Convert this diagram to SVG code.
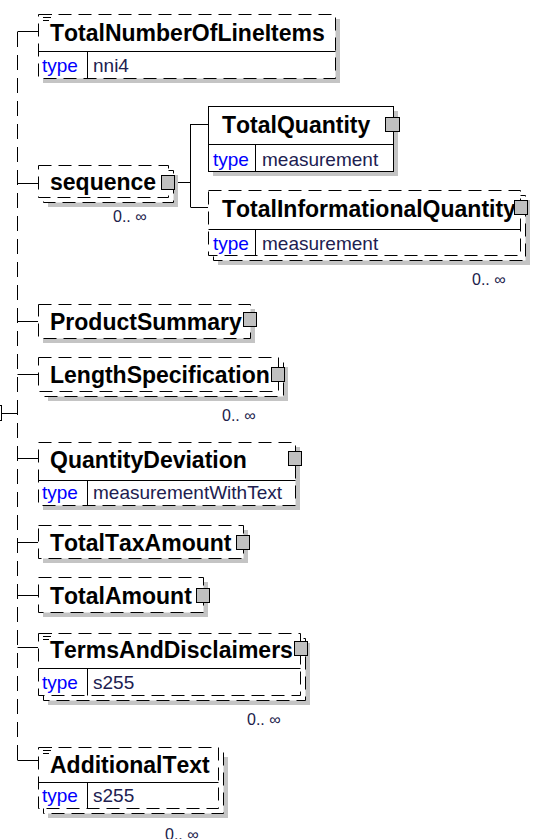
<svg xmlns="http://www.w3.org/2000/svg" width="534" height="839" viewBox="0 0 534 839">
<defs>
<style>
.bg{fill:#fff}
.sh{fill:#c4c4c4}
.bx{fill:#fff;stroke:#000;stroke-width:1}
.d{stroke-dasharray:13 7}
.ln{stroke:#000;stroke-width:1;fill:none}
.vd{stroke:#000;stroke-width:1;fill:none;stroke-dasharray:15 8}
.sq{fill:#c0c0c0;stroke:#000;stroke-width:1}
.nm{font-family:"Liberation Sans",Arial,sans-serif;font-weight:bold;font-size:23px;fill:#000;font-kerning:none}
.tk{font-family:"Liberation Sans",Arial,sans-serif;font-size:19px;fill:#0000ff}
.tv{font-family:"Liberation Sans",Arial,sans-serif;font-size:19px;fill:#202050}
.oc{font-family:"Liberation Sans",Arial,sans-serif;font-size:16px;fill:#20204a}
</style>
</defs>
<rect class="bg" x="0" y="0" width="534" height="839"/>

<g id="connectors">
<path class="vd" d="M17.5 760 V31"/>
<path class="ln" d="M17.5 31.5 H38"/>
<path class="ln" d="M17.5 183.5 H38"/>
<path class="ln" d="M175 182.5 H190.5 M190.5 124 V207 M190.5 124.5 H208 M190.5 207.5 H208"/>
<path class="ln" d="M17.5 321.5 H38"/>
<path class="ln" d="M17.5 374.5 H38"/>
<path class="ln" d="M2 413.5 H17.5"/>
<rect class="ln" x="-12.5" y="405.5" width="14" height="15"/>
<path class="ln" d="M17.5 458.5 H38"/>
<path class="ln" d="M17.5 542.5 H38"/>
<path class="ln" d="M17.5 595.5 H38"/>
<path class="ln" d="M17.5 647.5 H38"/>
<path class="ln" d="M17.5 760.5 H38"/>
</g>

<g id="TotalNumberOfLineItems">
<rect class="sh" x="43" y="19" width="297" height="64"/>
<rect class="bx d" x="38.5" y="14.5" width="297" height="64"/>
<path class="ln" d="M38.5 51.5 H335.5 M87.5 51.5 V78.5"/>
<path class="ln" d="M41 14.5 H52 M43 17.5 H51 M43 20.5 H49"/>
<text class="nm" x="50" y="41">TotalNumberOfLineItems</text>
<text class="tk" x="42" y="72">type</text>
<text class="tv" x="93" y="72">nni4</text>
</g>

<g id="sequence">
<rect class="sh" x="48" y="175" width="130" height="32"/>
<rect class="bx d" x="43.5" y="170.5" width="130" height="32"/>
<rect class="bx d" x="38.5" y="165.5" width="130" height="32"/>
<text class="nm" x="50" y="190">sequence</text>
<rect class="sq" x="161.5" y="175.5" width="13" height="14"/>
<text class="oc" x="113" y="222">0.. ∞</text>
</g>

<g id="TotalQuantity">
<rect class="sh" x="213" y="111" width="185" height="65"/>
<rect class="bx" x="208.5" y="106.5" width="185" height="65"/>
<path class="ln" d="M208.5 144.5 H393.5 M255.5 144.5 V171.5"/>
<text class="nm" x="222" y="133">TotalQuantity</text>
<text class="tk" x="213" y="166">type</text>
<text class="tv" x="262" y="166">measurement</text>
<rect class="sq" x="385.5" y="117.5" width="14" height="14"/>
</g>

<g id="TotalInformationalQuantity">
<rect class="sh" x="218" y="200" width="312" height="65"/>
<rect class="bx d" x="213.5" y="195.5" width="312" height="65"/>
<rect class="bx d" x="208.5" y="190.5" width="312" height="65"/>
<path class="ln" d="M208.5 229.5 H520.5 M255.5 229.5 V255.5"/>
<text class="nm" x="222" y="217">TotalInformationalQuantity</text>
<text class="tk" x="213" y="250">type</text>
<text class="tv" x="262" y="250">measurement</text>
<rect class="sq" x="514.5" y="200.5" width="13" height="14"/>
<text class="oc" x="472" y="285">0.. ∞</text>
</g>

<g id="ProductSummary">
<rect class="sh" x="43" y="309" width="212" height="34"/>
<rect class="bx d" x="38.5" y="304.5" width="212" height="34"/>
<text class="nm" x="50" y="330">ProductSummary</text>
<rect class="sq" x="243.5" y="312.5" width="13" height="14"/>
</g>

<g id="LengthSpecification">
<rect class="sh" x="48" y="367" width="240" height="34"/>
<rect class="bx d" x="43.5" y="362.5" width="240" height="34"/>
<rect class="bx d" x="38.5" y="357.5" width="240" height="34"/>
<text class="nm" x="50" y="383">LengthSpecification</text>
<rect class="sq" x="271.5" y="367.5" width="13" height="14"/>
<text class="oc" x="222" y="421">0.. ∞</text>
</g>

<g id="QuantityDeviation">
<rect class="sh" x="43" y="447" width="257" height="63"/>
<rect class="bx d" x="38.5" y="442.5" width="257" height="63"/>
<path class="ln" d="M38.5 480.5 H295.5 M87.5 480.5 V505.5"/>
<text class="nm" x="50" y="468">QuantityDeviation</text>
<text class="tk" x="42" y="499">type</text>
<text class="tv" x="93" y="499">measurementWithText</text>
<rect class="sq" x="288.5" y="451.5" width="13" height="14"/>
</g>

<g id="TotalTaxAmount">
<rect class="sh" x="43" y="530" width="205" height="33"/>
<rect class="bx d" x="38.5" y="525.5" width="205" height="33"/>
<text class="nm" x="50" y="551">TotalTaxAmount</text>
<rect class="sq" x="236.5" y="535.5" width="13" height="14"/>
</g>

<g id="TotalAmount">
<rect class="sh" x="43" y="582" width="165" height="35"/>
<rect class="bx d" x="38.5" y="577.5" width="165" height="35"/>
<text class="nm" x="50" y="604">TotalAmount</text>
<rect class="sq" x="196.5" y="588.5" width="13" height="14"/>
</g>

<g id="TermsAndDisclaimers">
<rect class="sh" x="48" y="643" width="262" height="62"/>
<rect class="bx d" x="43.5" y="638.5" width="262" height="62"/>
<rect class="bx d" x="38.5" y="633.5" width="262" height="62"/>
<path class="ln" d="M38.5 668.5 H300.5 M87.5 668.5 V695.5"/>
<path class="ln" d="M41 633.5 H52 M43 636.5 H51 M43 639.5 H49"/>
<text class="nm" x="50" y="658">TermsAndDisclaimers</text>
<text class="tk" x="42" y="689">type</text>
<text class="tv" x="93" y="689">s255</text>
<rect class="sq" x="294.5" y="641.5" width="13" height="14"/>
<text class="oc" x="247" y="725">0.. ∞</text>
</g>

<g id="AdditionalText">
<rect class="sh" x="48" y="757" width="180" height="61"/>
<rect class="bx d" x="43.5" y="752.5" width="180" height="61"/>
<rect class="bx d" x="38.5" y="747.5" width="180" height="61"/>
<path class="ln" d="M38.5 782.5 H218.5 M87.5 782.5 V808.5"/>
<path class="ln" d="M41 747.5 H52 M43 750.5 H51 M43 753.5 H49"/>
<text class="nm" x="50" y="773">AdditionalText</text>
<text class="tk" x="42" y="802">type</text>
<text class="tv" x="93" y="802">s255</text>
<text class="oc" x="165" y="840">0.. ∞</text>
</g>
</svg>
